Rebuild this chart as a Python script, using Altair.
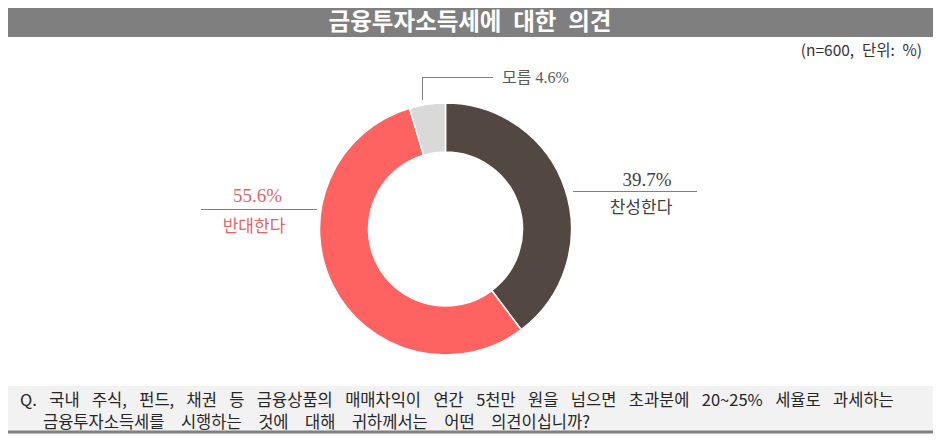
import altair as alt
import pandas as pd

# ---- data ----
categories = ["찬성한다", "반대한다", "모름"]
values = [39.7, 55.6, 4.6]
slice_colors = ["#534741", "#FF6361", "#D9D9D9"]
title_text = ["금융투자소득세에\u2002대한\u2002의견"]
note_text = ["(n=600,\u2002단위:\u2002%)"]
SP1 = "\u2002\u2005"
SP2 = "\u3000"
question_lines = [
    SP1.join(["Q.", "국내", "주식,", "펀드,", "채권", "등", "금융상품의", "매매차익이", "연간", "5천만",
              "원을", "넘으면", "초과분에", "20~25%", "세율로", "과세하는"]),
    SP2.join(["금융투자소득세를", "시행하는", "것에", "대해", "귀하께서는", "어떤", "의견이십니까?"]),
]

W, H = 925, 426
SANS = "Noto Sans CJK KR"
SERIF = "Liberation Serif, Noto Sans CJK KR"

df = pd.DataFrame({"category": categories, "value": values, "order": list(range(len(categories)))})
df["label"] = [f"{v:.1f}%" for v in values]
one = pd.DataFrame({"k": [0]})

# title bar
bar = alt.Chart(one).mark_rect(color="#7F7F7F").encode(
    x=alt.value(0), x2=alt.value(W), y=alt.value(0), y2=alt.value(29)
)
title = alt.Chart(pd.DataFrame({"t": title_text})).mark_text(
    font=SANS, fontSize=23.5, fontWeight="bold", color="white", align="center", baseline="middle"
).encode(x=alt.value(462), y=alt.value(15), text="t:N")
note = alt.Chart(pd.DataFrame({"t": note_text})).mark_text(
    font=SANS, fontSize=15.5, color="#333333", align="right", baseline="middle"
).encode(x=alt.value(914), y=alt.value(43), text="t:N")

# donut
arc = alt.Chart(df).mark_arc(outerRadius=126, innerRadius=77, stroke="white", strokeWidth=1.5).encode(
    theta=alt.Theta("value:Q", stack=True),
    order=alt.Order("order:Q"),
    color=alt.Color("category:N", scale=alt.Scale(domain=categories, range=slice_colors), legend=None),
    x=alt.value(437.5),
    y=alt.value(221),
)

base = alt.Chart(df)
line_col = "#808080"

# 찬성한다
r_yes = alt.Chart(one).mark_rule(color=line_col, strokeWidth=1).encode(
    x=alt.value(565), x2=alt.value(689), y=alt.value(183.5)
)
t_yes_pct = base.transform_filter(alt.datum.category == categories[0]).mark_text(
    font=SERIF, fontSize=19, color="#404040", align="center", baseline="alphabetic"
).encode(x=alt.value(639), y=alt.value(178), text="label:N")
t_yes_cat = base.transform_filter(alt.datum.category == categories[0]).mark_text(
    font=SANS, fontSize=17, color="#404040", align="center", baseline="middle"
).encode(x=alt.value(633), y=alt.value(200), text="category:N")

# 반대한다
r_no = alt.Chart(one).mark_rule(color=line_col, strokeWidth=1).encode(
    x=alt.value(193), x2=alt.value(309), y=alt.value(201.5)
)
t_no_pct = base.transform_filter(alt.datum.category == categories[1]).mark_text(
    font=SERIF, fontSize=19, color="#E06666", align="center", baseline="alphabetic"
).encode(x=alt.value(249.5), y=alt.value(194), text="label:N")
t_no_cat = base.transform_filter(alt.datum.category == categories[1]).mark_text(
    font=SANS, fontSize=17, color="#E06666", align="center", baseline="middle"
).encode(x=alt.value(246), y=alt.value(219), text="category:N")

# 모름
r_dk_v = alt.Chart(one).mark_rule(color=line_col, strokeWidth=1).encode(
    x=alt.value(414.5), y=alt.value(69), y2=alt.value(92)
)
r_dk_h = alt.Chart(one).mark_rule(color=line_col, strokeWidth=1).encode(
    x=alt.value(414.5), x2=alt.value(485), y=alt.value(69.5)
)
t_dk = base.transform_filter(alt.datum.category == categories[2]).transform_calculate(
    full="datum.category + ' ' + datum.label"
).mark_text(
    font=SERIF, fontSize=16, color="#595959", align="left", baseline="middle"
).encode(x=alt.value(494), y=alt.value(70), text="full:N")

# question box
box = alt.Chart(one).mark_rect(color="#F2F2F2").encode(
    x=alt.value(0), x2=alt.value(W), y=alt.value(378), y2=alt.value(423)
)
box_line = alt.Chart(one).mark_rule(color="#808080", strokeWidth=3).encode(
    x=alt.value(0), x2=alt.value(W), y=alt.value(424)
)
q1 = alt.Chart(pd.DataFrame({"t": [question_lines[0]]})).mark_text(
    font=SANS, fontSize=16.5, color="#262626", align="left", baseline="middle"
).encode(x=alt.value(12), y=alt.value(393), text="t:N")
q2 = alt.Chart(pd.DataFrame({"t": [question_lines[1]]})).mark_text(
    font=SANS, fontSize=16.5, color="#262626", align="left", baseline="middle"
).encode(x=alt.value(35), y=alt.value(415), text="t:N")

chart = alt.layer(
    bar, title, note, arc,
    r_yes, t_yes_pct, t_yes_cat,
    r_no, t_no_pct, t_no_cat,
    r_dk_v, r_dk_h, t_dk,
    box, box_line, q1, q2,
).properties(
    width=W, height=H, autosize="none", padding=0, background="white"
).configure_view(stroke=None)

chart.save("out.html", embed_options={"renderer": "svg", "actions": False})
